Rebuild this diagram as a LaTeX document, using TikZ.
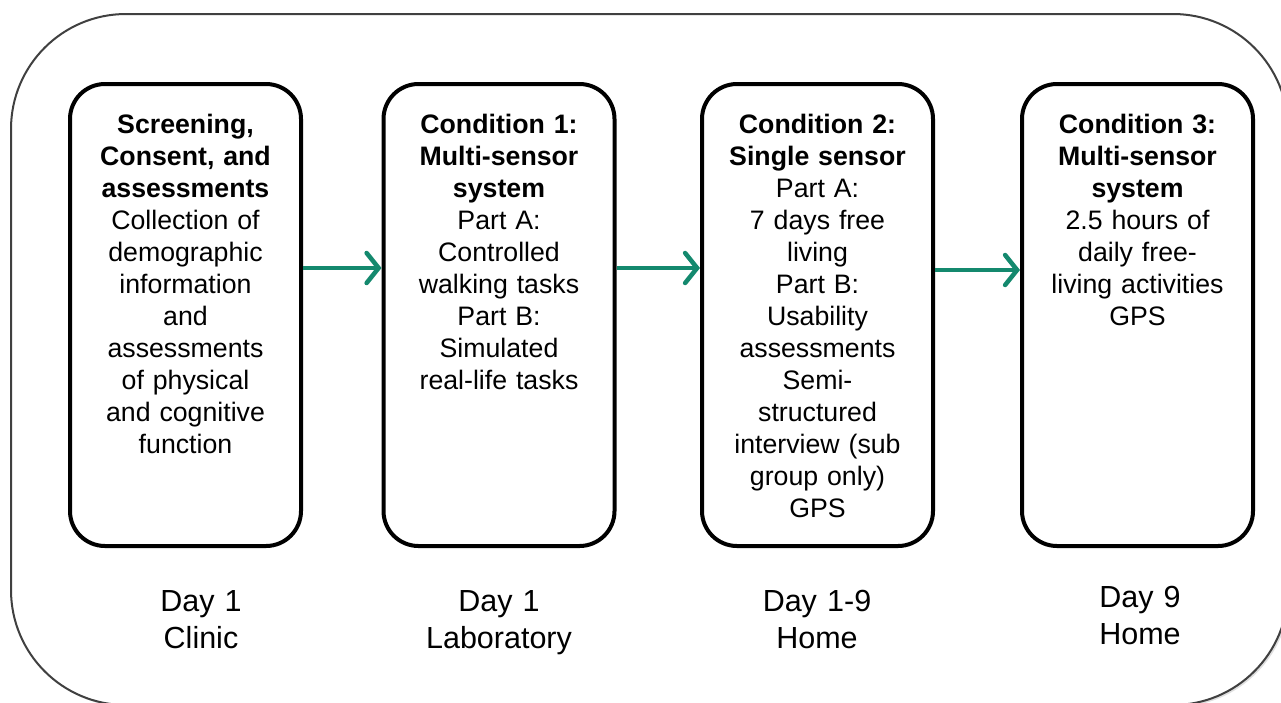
\documentclass[tikz,border=0pt]{standalone}
\usepackage{fontspec}
\setmainfont{Liberation Sans}
\usetikzlibrary{arrows.meta,shadows}
\definecolor{arrgreen}{RGB}{20,137,110}
\definecolor{outergray}{RGB}{64,64,64}
\tikzset{
  outerbox/.style={draw=outergray, line width=2pt, fill=white, rounded corners=115pt,
    drop shadow={shadow xshift=2pt, shadow yshift=-2pt, opacity=0.25}},
  stagebox/.style={draw=black, line width=4pt, rounded corners=35pt, rectangle,
    minimum width=231pt, minimum height=462pt, inner sep=0pt},
  boxtext/.style={text width=232pt, align=center, inner sep=0pt, anchor=base,
    font=\fontsize{26.7}{32}\selectfont},
  daylabel/.style={text width=220pt, align=center, inner sep=0pt, anchor=base,
    font=\fontsize{30.5}{37}\selectfont},
  flow/.style={draw=arrgreen, line width=4.5pt, line join=round,
    -{Straight Barb[length=12pt, width=30pt, line cap=round]}}
}
\begin{document}
\begin{tikzpicture}[x=1pt,y=-1pt]
\useasboundingbox (0,0) rectangle (1281,702);
\clip (0,0) rectangle (1281,702);
\path[outerbox] (11,14) rectangle (1288,705);

\node[stagebox] (b1) at (185.5,315) {};
\node[stagebox] (b2) at (499,315) {};
\node[stagebox] (b3) at (817.5,315) {};
\node[stagebox] (b4) at (1137.5,315) {};

\node[boxtext] (t1) at (185.5,133) {\textbf{Screening,}\\\textbf{Consent, and}\\\textbf{assessments}\\Collection of\\demographic\\information\\and\\assessments\\of physical\\and cognitive\\function};
\node[boxtext] (t2) at (499,133) {\textbf{Condition 1:}\\\textbf{Multi-sensor}\\\textbf{system}\\Part A:\\Controlled\\walking tasks\\Part B:\\Simulated\\real-life tasks};
\node[boxtext] (t3) at (817.5,133) {\textbf{Condition 2:}\\\textbf{Single sensor}\\Part A:\\7 days free\\living\\Part B:\\Usability\\assessments\\Semi-\\structured\\interview (sub\\group only)\\GPS};
\node[boxtext] (t4) at (1137.5,133) {\textbf{Condition 3:}\\\textbf{Multi-sensor}\\\textbf{system}\\2.5 hours of\\daily free-\\living activities\\GPS};

\node[daylabel] (d1) at (201,611) {Day 1\\Clinic};
\node[daylabel] (d2) at (499,611) {Day 1\\Laboratory};
\node[daylabel] (d3) at (817,611) {Day 1-9\\Home};
\node[daylabel] (d4) at (1140,607) {Day 9\\Home};

\draw[flow] ([yshift=47pt]b1.east) -- ([yshift=47pt]b2.west);
\draw[flow] ([yshift=47pt]b2.east) -- ([yshift=47pt]b3.west);
\draw[flow] ([yshift=45pt]b3.east) -- ([yshift=45pt]b4.west);
\end{tikzpicture}
\end{document}
